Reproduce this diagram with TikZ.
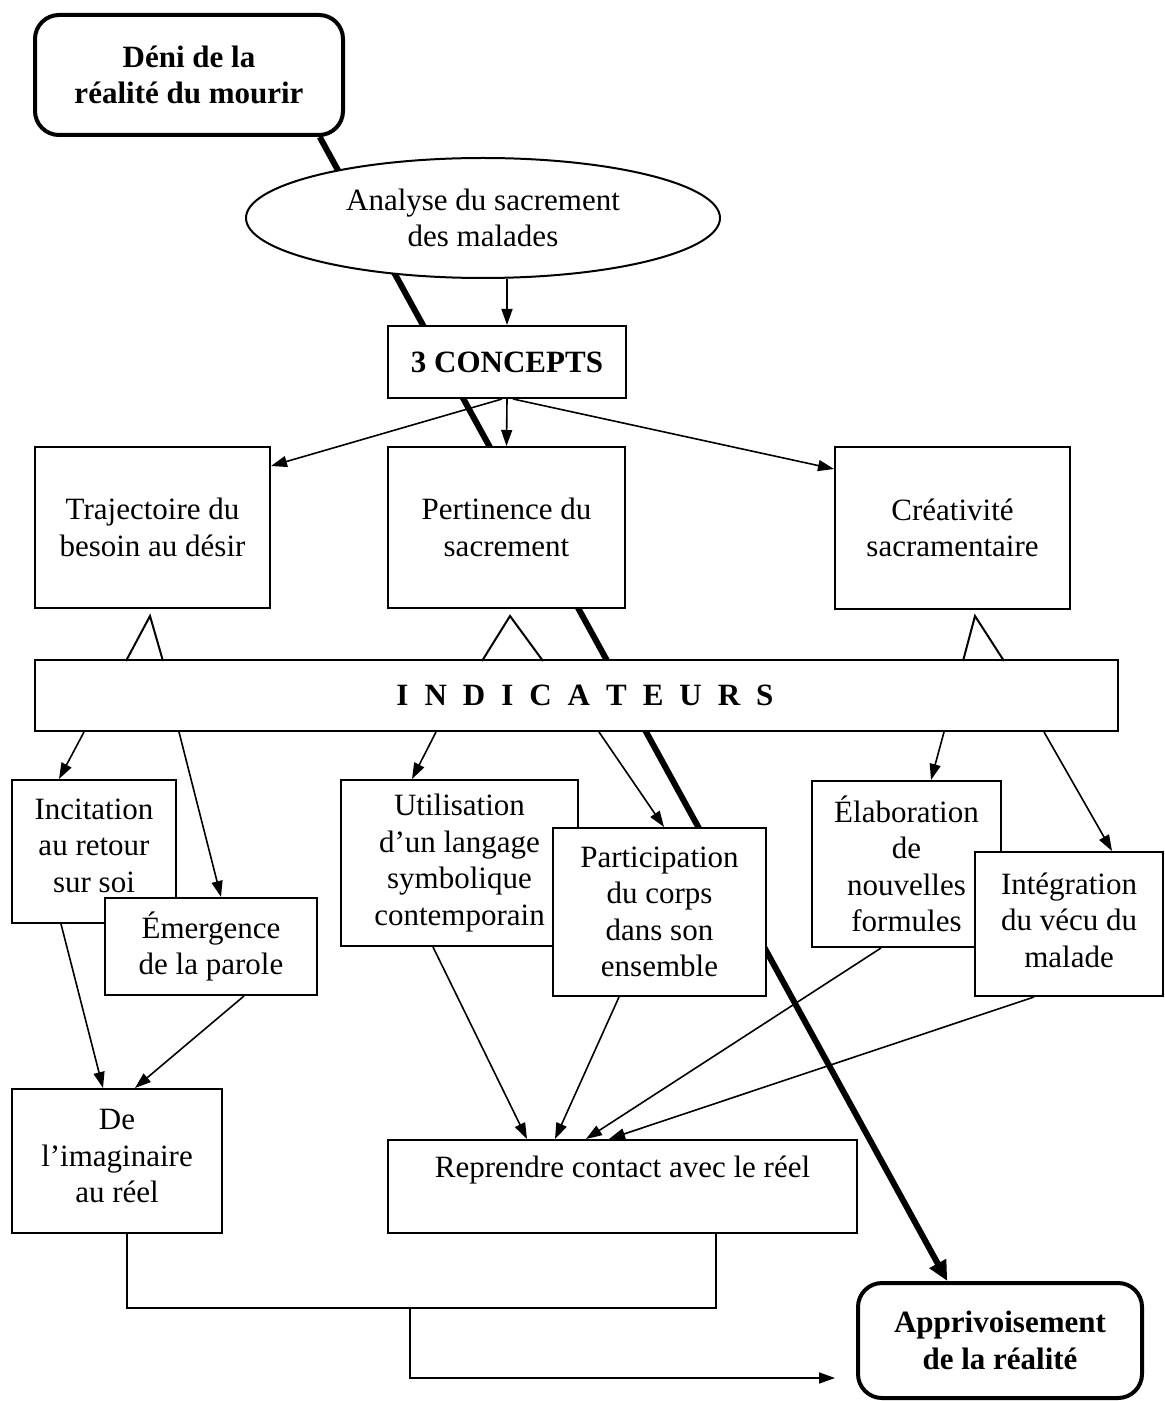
\documentclass[tikz,border=0pt]{standalone}
\usepackage{fontspec}
\setmainfont{Liberation Serif}
\usetikzlibrary{arrows.meta,calc,shapes.geometric}
\pgfdeclarelayer{bg}
\pgfsetlayers{bg,main}
\begin{document}
\begin{tikzpicture}[x=0.5pt,y=-0.5pt,
  every node/.style={font=\fontsize{15.5}{18.25}\selectfont, align=center, inner sep=0pt},
  box/.style 2 args={draw, line width=1pt, fill=white, minimum width=#1*0.5pt, minimum height=#2*0.5pt},
  rbox/.style 2 args={draw, line width=2pt, rounded corners=12pt, fill=white, minimum width=#1*0.5pt, minimum height=#2*0.5pt},
  oval/.style={draw, ellipse, line width=1pt, fill=white, minimum width=237pt, minimum height=60pt},
  arr/.style={line width=0.8pt, -{Triangle[length=8pt,width=5.5pt]}},
  link/.style={line width=0.8pt},
  bigarr/.style={line width=3pt, -{Triangle[length=10pt,width=9pt]}},
  tri/.style={line width=1pt}
]
\useasboundingbox (0,0) rectangle (1165,1401);

% nodes
\node[rbox={308}{120}] (deni) at (189,75) {\bfseries Déni de la\\\bfseries réalité du mourir};
\node[oval] (ana) at (483,218) {Analyse du sacrement\\des malades};
\node[box={238}{72}] (conc) at (507,362) {\bfseries 3 CONCEPTS};
\node[box={235}{161}] (traj) at (152.5,527.5) {Trajectoire du\\besoin au désir};
\node[box={237}{161}] (pert) at (506.5,527.5) {Pertinence du\\sacrement};
\node[box={235}{162}] (crea) at (952.5,528) {Créativité\\sacramentaire};
\node[box={1083}{71}] (ind) at (576.5,695.5) {\hspace*{8.5pt}\bfseries\spaceskip=8pt\relax I N D I C A T E U R S};
\node[box={164}{143}, text depth=6pt] (inc) at (94,851.5) {Incitation\\au retour\\sur soi};
\node[box={212}{97}] (emer) at (211,946.5) {Émergence\\de la parole};
\node[box={237}{166}] (util) at (459.5,863) {Utilisation\\d’un langage\\symbolique\\contemporain};
\node[box={213}{168}] (part) at (659.5,912) {Participation\\du corps\\dans son\\ensemble};
\node[box={189}{166}] (elab) at (906.5,864) {Élaboration\\de\\nouvelles\\formules};
\node[box={188}{144}, text depth=4pt] (integ) at (1069,924) {Intégration\\du vécu du\\malade};
\node[box={210}{144}, text depth=5pt] (imag) at (117,1161) {De\\l’imaginaire\\au réel};
\node[box={469}{93}, text height=11pt, text depth=20pt] (repr) at (622.5,1186.5) {Reprendre contact avec le réel};
\node[rbox={284}{115}] (appr) at (1000,1340.5) {\bfseries Apprivoisement\\\bfseries de la réalité};

% thick arrow behind the boxes
\begin{pgfonlayer}{bg}
\draw[bigarr] ($(deni.south west)!0.919!(deni.south east)$) -- ($(appr.north west)!0.317!(appr.north east)$);
\end{pgfonlayer}

% top arrows
\draw[arr] (ana.south -| conc.north) -- (conc.north);
\draw[arr] ($(conc.south)+(-5,0)$) -- ($(traj.north east)+(0,20)$);
\draw[arr] (conc.south) -- (pert.north);
\draw[arr] ($(conc.south)+(6,0)$) -- ($(crea.north west)+(0,23)$);

% triangles
\draw[tri] ($(traj.south)+(-26.5,52)$) -- ($(traj.south)+(-2.5,7)$) -- ($(traj.south)+(10.5,52)$);
\draw[tri] ($(pert.south)+(-24.5,52)$) -- ($(pert.south)+(3.5,7)$) -- ($(pert.south)+(36.5,52)$);
\draw[tri] ($(crea.south)+(10.5,51)$) -- ($(crea.south)+(22.5,6)$) -- ($(crea.south)+(51.5,51)$);

% indicator arrows
\draw[arr] ($(ind.south west)+(50,0)$) -- ($(inc.north west)+(48,0)$);
\draw[arr] ($(ind.south west)+(145,0)$) -- ($(emer.north west)+(117,0)$);
\draw[arr] ($(ind.south west)+(402,0)$) -- ($(util.north west)+(72,0)$);
\draw[arr] ($(ind.south west)+(565,0)$) -- ($(part.north west)+(112,0)$);
\draw[arr] ($(ind.south west)+(910,0)$) -- ($(elab.north west)+(120,0)$);
\draw[arr] ($(ind.south west)+(1010,0)$) -- ($(integ.north west)+(138,0)$);

% lower arrows
\draw[arr] ($(inc.south west)+(50,0)$) -- ($(imag.north west)+(92,0)$);
\draw[arr] ($(emer.south west)+(140,0)$) -- ($(imag.north west)+(124,0)$);
\draw[arr] ($(util.south west)+(93,0)$) -- ($(repr.north west)+(140,0)$);
\draw[arr] ($(part.south west)+(67,0)$) -- ($(repr.north west)+(168,0)$);
\draw[arr] ($(elab.south west)+(70,0)$) -- ($(repr.north west)+(199,0)$);
\draw[arr] ($(integ.south west)+(60,0)$) -- ($(repr.north west)+(222,0)$);

% bottom connectors
\draw[link] ($(imag.south west)+(116,0)$) -- ++(0,74) -| ($(repr.south west)+(329,0)$);
\coordinate (jn) at (410,1307);
\coordinate (tip) at (835,1378);
\draw[arr] (jn) |- (tip);
\end{tikzpicture}
\end{document}
